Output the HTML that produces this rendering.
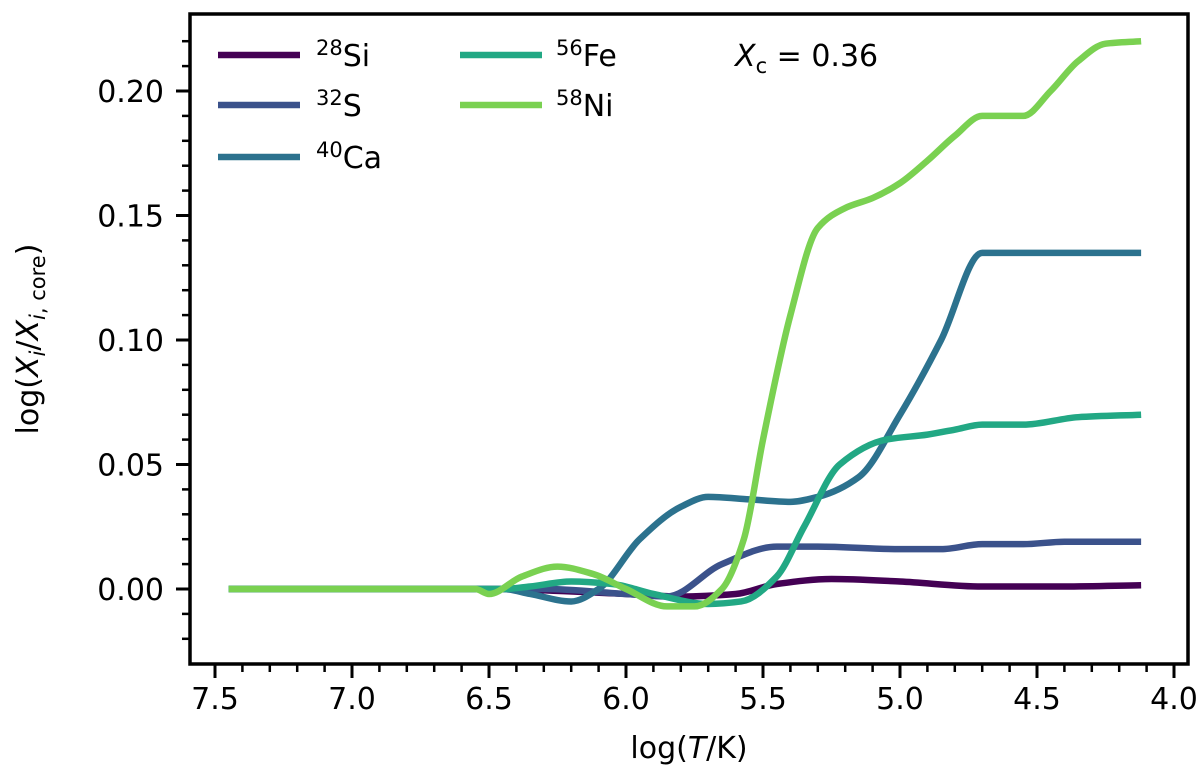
<!DOCTYPE html>
<html><head><meta charset="utf-8"><style>
body{margin:0;background:#fff}
svg text{font-family:"DejaVu Sans","Liberation Sans",sans-serif;fill:#000}
</style></head><body>
<svg id="chart" width="1200" height="774">
<g id="plot"></g>
</svg>
<script>
const xTickLabels=["7.5","7.0","6.5","6.0","5.5","5.0","4.5","4.0"];
const xTickValues=[7.5,7.0,6.5,6.0,5.5,5.0,4.5,4.0];
const yTickLabels=["0.00","0.05","0.10","0.15","0.20"];
const yTickValues=[0,0.05,0.10,0.15,0.20];
const siX=[7.45,6.5,6.0,5.8,5.6,5.45,5.25,5.0,4.7,4.4,4.12];
const siY=[0,0,-0.002,-0.003,-0.002,0.002,0.004,0.003,0.001,0.001,0.0015];
const sX=[7.45,6.5,6.3,6.0,5.85,5.65,5.45,5.3,5.0,4.85,4.7,4.55,4.4,4.12];
const sY=[0,0,0,-0.002,-0.003,0.01,0.017,0.017,0.016,0.016,0.018,0.018,0.019,0.019];
const caX=[7.45,6.45,6.35,6.2,6.1,5.95,5.8,5.7,5.55,5.4,5.3,5.15,5.0,4.85,4.7,4.4,4.12];
const caY=[0,0,-0.002,-0.005,0,0.02,0.033,0.037,0.036,0.035,0.037,0.045,0.07,0.1,0.135,0.135,0.135];
const feX=[7.45,6.45,6.35,6.2,6.05,5.9,5.7,5.58,5.45,5.35,5.22,5.05,4.9,4.8,4.7,4.55,4.35,4.12];
const feY=[0,0,0.001,0.003,0.002,-0.002,-0.006,-0.005,0.005,0.025,0.05,0.06,0.062,0.064,0.066,0.066,0.069,0.07];
const niX=[7.45,6.55,6.5,6.38,6.25,6.12,6.0,5.85,5.75,5.65,5.57,5.5,5.4,5.3,5.2,5.1,5.0,4.9,4.8,4.7,4.55,4.45,4.35,4.25,4.12];
const niY=[0,0,-0.002,0.005,0.009,0.006,0,-0.007,-0.007,0,0.02,0.06,0.11,0.145,0.153,0.157,0.163,0.172,0.182,0.19,0.19,0.2,0.212,0.219,0.22];
const seriesNames=["si","s","ca","fe","ni"];

const NS="http://www.w3.org/2000/svg";
const g=document.getElementById('plot');
const L=190,R=1188,T=14,B=664;
const xs=v=>215+(7.5-v)*(1174-215)/3.5;
const ys=v=>589-v*(589-91)/0.2;
function mk(tag,a){const e=document.createElementNS(NS,tag);for(const k in a)e.setAttribute(k,a[k]);g.appendChild(e);return e;}
// monotone cubic (Fritsch-Carlson) in pixel space
function path(X,Y){const px=X.map(xs),py=Y.map(ys),n=px.length;
const d=[],m=new Array(n);for(let i=0;i<n-1;i++)d.push((py[i+1]-py[i])/(px[i+1]-px[i]));
m[0]=d[0];m[n-1]=d[n-2];
for(let i=1;i<n-1;i++){if(d[i-1]*d[i]<=0)m[i]=0;else{const h0=px[i]-px[i-1],h1=px[i+1]-px[i];const w1=2*h1+h0,w2=h1+2*h0;m[i]=(w1+w2)/(w1/d[i-1]+w2/d[i]);}}
let s=`M${px[0]},${py[0]}`;
for(let i=0;i<n-1;i++){const h=(px[i+1]-px[i])/3;s+=` C${px[i]+h},${py[i]+m[i]*h} ${px[i+1]-h},${py[i+1]-m[i+1]*h} ${px[i+1]},${py[i+1]}`;}
return s;}
const cols=["#440154","#3b528b","#2c728e","#22a884","#7ad151"];
const data=[[siX,siY],[sX,sY],[caX,caY],[feX,feY],[niX,niY]];
data.forEach((s,i)=>{const e=mk('path',{d:path(s[0],s[1]),fill:'none',stroke:cols[i],'stroke-width':6.5,'stroke-linejoin':'round'});

});
const fr=mk('rect',{x:L,y:T,width:R-L,height:B-T,fill:'none',stroke:'#000','stroke-width':3.5});

xTickValues.forEach((v,i)=>{const x=xs(v);mk('line',{x1:x,x2:x,y1:B,y2:B+14,stroke:'#000','stroke-width':3});
const t=mk('text',{x:x,y:B+45,'font-size':30,'text-anchor':'middle'});t.textContent=xTickLabels[i];
});
for(let v=7.6;v>=3.95;v-=0.1){const x=xs(v);if(x<L||x>R)continue;mk('line',{x1:x,x2:x,y1:B,y2:B+8,stroke:'#000','stroke-width':2.5});}
yTickValues.forEach((v,i)=>{const y=ys(v);mk('line',{x1:L-14,x2:L,y1:y,y2:y,stroke:'#000','stroke-width':3});
const t=mk('text',{x:L-26,y:y+11,'font-size':30,'text-anchor':'end'});t.textContent=yTickLabels[i];
});
for(let v=-0.02;v<=0.23;v+=0.01){const y=ys(v);if(y<T||y>B)continue;mk('line',{x1:L-8,x2:L,y1:y,y2:y,stroke:'#000','stroke-width':2.5});}
</script>
<svg width="1200" height="774" style="position:absolute;left:0;top:0">
<text x="689" y="758" font-size="30" text-anchor="middle">log(<tspan font-style="italic">T</tspan>/K)</text>
<text transform="translate(38,339) rotate(-90)" font-size="30" text-anchor="middle">log(<tspan font-style="italic">X</tspan><tspan font-size="21" dy="7" font-style="italic">i</tspan><tspan dy="-7">/</tspan><tspan font-style="italic">X</tspan><tspan font-size="21" dy="7"><tspan font-style="italic">i</tspan>, core</tspan><tspan dy="-7">)</tspan></text>
<g font-size="30">
<line x1="218" x2="300" y1="55" y2="55" stroke="#440154" stroke-width="6.5"/>
<text x="316" y="66"><tspan font-size="21" dy="-11">28</tspan><tspan dy="11">Si</tspan></text>
<line x1="218" x2="300" y1="105" y2="105" stroke="#3b528b" stroke-width="6.5"/>
<text x="316" y="116"><tspan font-size="21" dy="-11">32</tspan><tspan dy="11">S</tspan></text>
<line x1="218" x2="300" y1="157" y2="157" stroke="#2c728e" stroke-width="6.5"/>
<text x="316" y="168"><tspan font-size="21" dy="-11">40</tspan><tspan dy="11">Ca</tspan></text>
<line x1="460" x2="542" y1="55" y2="55" stroke="#22a884" stroke-width="6.5"/>
<text x="556" y="66"><tspan font-size="21" dy="-11">56</tspan><tspan dy="11">Fe</tspan></text>
<line x1="460" x2="542" y1="105" y2="105" stroke="#7ad151" stroke-width="6.5"/>
<text x="556" y="116"><tspan font-size="21" dy="-11">58</tspan><tspan dy="11">Ni</tspan></text>
</g>
<text x="735" y="66" font-size="30"><tspan font-style="italic">X</tspan><tspan font-size="21" dy="7">c</tspan><tspan dy="-7"> = 0.36</tspan></text>
</svg>
</body></html>
